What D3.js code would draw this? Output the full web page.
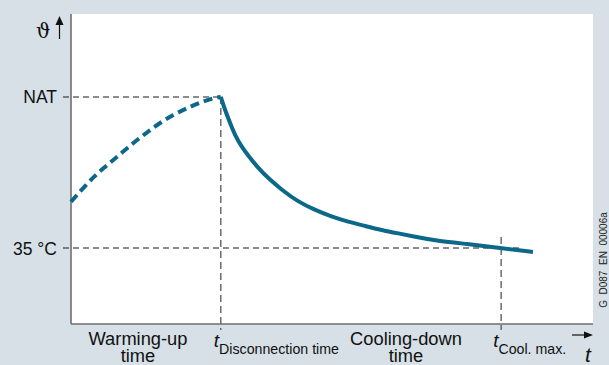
<!DOCTYPE html>
<html><head><meta charset="utf-8">
<script src="https://cdn.jsdelivr.net/npm/d3@7/dist/d3.min.js"></script>
<style>
html,body{margin:0;padding:0;background:#d6e0e6;}
svg{display:block;font-family:"Liberation Sans",Arial,sans-serif;}
</style></head>
<body>
<svg id="chart" width="609" height="365"></svg>
<script>
// ---- data (time in arbitrary units, temperature with NAT = 100, 35 °C = 35) ----
const warmingTime = [0, 1.7, 4.3, 6.2, 8.1, 10.0, 11.9, 14.5, 17.0, 19.6, 22.2, 24.7, 27.3, 28.7];
const warmingTemp = [54.9, 59.2, 65.4, 69.3, 72.9, 76.5, 80.1, 84.6, 88.7, 92.2, 95.1, 97.5, 99.4, 100];
const coolingTime = [28.7, 29.5, 30.5, 31.4, 32.7, 34.0, 35.9, 37.8, 40.4, 43.5, 46.7, 49.9, 53.1, 56.3, 59.5, 62.7, 65.9, 69.3, 75.9, 82.2, 88.5];
const coolingTemp = [100, 94.4, 88.7, 83.6, 78.6, 74.6, 69.3, 65.0, 60.0, 54.9, 51.4, 48.5, 46.3, 44.5, 42.7, 41.3, 39.9, 38.4, 36.7, 35.0, 33.3];
const tDisconnection = 28.7;
const tCoolMax = 82.4;
const natValue = 100;
const tempRef = 35;
const yTickLabels = ["NAT", "35 °C"];
const xLabels = ["Warming-up", "time"];
const coolLabels = ["Cooling-down", "time"];

const svg = d3.select("#chart");
const x = d3.scaleLinear().domain([0, 100]).range([71, 593]);
const y = d3.scaleLinear().domain([2.3, 135.7]).range([324, 14]);

const curveColor = "#0b6888";

// plot area
svg.append("rect").attr("x", x(0)).attr("y", y(135.7))
  .attr("width", x(100) - x(0)).attr("height", y(2.3) - y(135.7)).attr("fill", "#fff");

function applyAttrs(sel, a) { for (const k in a) sel.attr(k, a[k]); return sel; }
// reference dashed lines
const dashH = {stroke: "#1a1a1a", "stroke-width": 1.1, "stroke-dasharray": "6,4"};
applyAttrs(svg.append("line").attr("x1", x(0) - 8).attr("x2", x(tDisconnection))
  .attr("y1", y(natValue)).attr("y2", y(natValue)), dashH);
applyAttrs(svg.append("line").attr("x1", x(0) - 8).attr("x2", x(86.2))
  .attr("y1", y(tempRef)).attr("y2", y(tempRef)), dashH);
const dashV = {stroke: "#555", "stroke-width": 1.3, "stroke-dasharray": "7,4"};
applyAttrs(svg.append("line").attr("x1", x(tDisconnection)).attr("x2", x(tDisconnection))
  .attr("y1", y(natValue)).attr("y2", y(2.3) + 6), dashV);
applyAttrs(svg.append("line").attr("x1", x(tCoolMax)).attr("x2", x(tCoolMax))
  .attr("y1", y(39.7)).attr("y2", y(2.3) + 6), dashV);

// axes
svg.append("line").attr("x1", x(0)).attr("x2", x(0)).attr("y1", y(135.7)).attr("y2", y(2.3))
  .attr("stroke", "#6e6e6e").attr("stroke-width", 1.6);
svg.append("line").attr("x1", x(0)).attr("x2", x(100)).attr("y1", y(2.3)).attr("y2", y(2.3))
  .attr("stroke", "#6e6e6e").attr("stroke-width", 1.6);

// curves
const lineW = d3.line().x(d => x(d[0])).y(d => y(d[1])).curve(d3.curveMonotoneX);
const lineC = d3.line().x(d => x(d[0])).y(d => y(d[1])).curve(d3.curveBasis);
svg.append("path").datum(warmingTime.map((t, i) => [t, warmingTemp[i]]))
  .attr("d", lineW).attr("fill", "none").attr("stroke", curveColor)
  .attr("stroke-width", 4).attr("stroke-dasharray", "9,5");
svg.append("path").datum(coolingTime.map((t, i) => [t, coolingTemp[i]]))
  .attr("d", lineC).attr("fill", "none").attr("stroke", curveColor)
  .attr("stroke-width", 4).attr("stroke-linejoin", "round");

// y labels
svg.append("text").attr("x", 57).attr("y", y(natValue) + 6.5).attr("text-anchor", "end")
  .attr("font-size", 17.5).attr("fill", "#111").text(yTickLabels[0]);
svg.append("text").attr("x", 57).attr("y", y(tempRef) + 6.5).attr("text-anchor", "end")
  .attr("font-size", 17.5).attr("fill", "#111").text(yTickLabels[1]);

// theta + arrow
svg.append("text").attr("x", 36).attr("y", 38).attr("font-size", 20)
  .attr("font-family", "DejaVu Serif, serif").attr("fill", "#111").text("ϑ");
svg.append("line").attr("x1", 59.5).attr("x2", 59.5).attr("y1", 39).attr("y2", 22)
  .attr("stroke", "#111").attr("stroke-width", 1.2);
svg.append("path").attr("d", "M55.5,25 L59.5,16 L63.5,25 Z").attr("fill", "#111");

// bottom labels
function twoLine(cx, lines) {
  svg.append("text").attr("x", cx).attr("y", 344.5).attr("text-anchor", "middle")
    .attr("font-size", 18.3).attr("fill", "#111").text(lines[0]);
  svg.append("text").attr("x", cx).attr("y", 362).attr("text-anchor", "middle")
    .attr("font-size", 18.3).attr("fill", "#111").text(lines[1]);
}
twoLine(138, xLabels);
twoLine(406, coolLabels);

function tLabel(xpos, sub) {
  const t = svg.append("text").attr("x", xpos).attr("y", 347).attr("fill", "#111");
  t.append("tspan").attr("font-size", 19).attr("font-style", "italic").text("t");
  t.append("tspan").attr("font-size", 14.2).attr("dy", 7).text(sub);
}
tLabel(x(tDisconnection) - 7, "Disconnection time");
tLabel(x(tCoolMax) - 8, "Cool. max.");

// t axis label + arrow
svg.append("text").attr("x", 585).attr("y", 362).attr("font-size", 21)
  .attr("font-style", "italic").attr("fill", "#111").text("t");
svg.append("line").attr("x1", 572).attr("x2", 586).attr("y1", 335).attr("y2", 335)
  .attr("stroke", "#111").attr("stroke-width", 1.2);
svg.append("path").attr("d", "M584,331.5 L593,335 L584,338.5 Z").attr("fill", "#111");

// figure id
svg.append("text").attr("transform", "translate(607,260) rotate(-90)")
  .attr("text-anchor", "middle").attr("font-size", 10).attr("fill", "#222")
  .attr("xml:space", "preserve").style("white-space", "pre").text("G  D087  EN  00006a");
</script>
</body></html>
